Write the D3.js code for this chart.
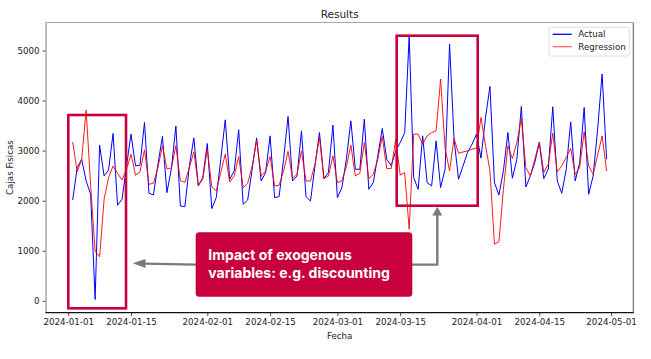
<!DOCTYPE html>
<html>
<head>
<meta charset="utf-8">
<script src="https://cdn.jsdelivr.net/npm/d3@7"></script>
<style>
  html, body { margin: 0; padding: 0; background: #fff; }
  svg { display: block; }
</style>
</head>
<body>
<svg id="chart" width="651" height="359"></svg>
<script>
// ---------------- DATA ----------------
const startDate = "2024-01-02";
const endDate = "2024-05-01"; // exclusive
const actualJan = [2014, 2662, 2828, 2394, 2128, 26, 3108, 2494, 2614, 3343, 1908, 2028, 2694, 3329, 2694,
  2708, 3562, 2148, 2114, 2728, 3283, 2161, 2640, 3490, 1894, 1881, 2694, 3255, 2294, 2462];
const actualFeb = [3142, 1841, 2061, 2828, 3615, 2428, 2594, 3415, 1928, 2014, 2628, 3255, 2394, 2561, 3295,
  2061, 2081, 2828, 3683, 2394, 2494, 3395, 2081, 1994, 2694, 3362, 2441, 2561, 3509];
const actualMar = [2061, 2261, 2828, 3595, 2628, 2628, 3629, 2228, 2361, 2895, 3442, 2828, 2700, 2995, 3162,
  3362, 5296, 2462, 2228, 3295, 2361, 2294, 3195, 2261, 2628, 5130, 3229, 2428, 2694, 2962, 3128];
const actualApr = [3329, 2850, 3650, 4283, 2361, 2114, 2600, 3362, 2448, 2828, 3883, 2274, 2494, 2762, 3162,
  2441, 2628, 3875, 2394, 2148, 2628, 3575, 2394, 2762, 3862, 2128, 2494, 3429, 4530, 2828];

const regJan = [3175, 2574, 2828, 3809, 2300, 993, 881, 2028, 2462, 2694, 2548, 2414, 2628, 2928, 2508,
  2574, 3015, 2328, 2348, 2662, 3095, 2635, 2652, 3100, 2400, 2365, 2662, 2975, 2308, 2428];
const regFeb = [3028, 2281, 2194, 2561, 2928, 2374, 2494, 2882, 2261, 2348, 2694, 3209, 2494, 2594, 2882,
  2294, 2308, 2594, 2985, 2441, 2528, 2995, 2394, 2394, 2728, 3262, 2441, 2494, 2895];
const regMar = [2361, 2394, 2682, 3108, 2494, 2548, 3162, 2441, 2528, 2828, 3283, 2642, 2642, 3229, 2510,
  2561, 1428, 3329, 3329, 3128, 3295, 3362, 3395, 4430, 3050, 2594, 3242, 2948, 2974, 2994, 3028];
const regApr = [3050, 3662, 3100, 2600, 1130, 1180, 2228, 3095, 2842, 3162, 3642, 2662, 2494, 2828, 3175,
  2561, 2728, 3349, 2574, 2694, 2862, 3042, 2528, 2662, 3375, 2694, 2528, 2908, 3295, 2594];

const xTickLabels = ["2024-01-01", "2024-01-15", "2024-02-01", "2024-02-15", "2024-03-01",
  "2024-03-15", "2024-04-01", "2024-04-15", "2024-05-01"];
const yTickValues = [0, 1000, 2000, 3000, 4000, 5000];
const seriesNames = ["Actual", "Regression"];
const annotationText = ["Impact of exogenous", "variables: e.g. discounting"];

// ---------------- BUILD ----------------
const parse = d3.utcParse("%Y-%m-%d");
const dates = d3.utcDay.range(parse(startDate), parse(endDate));
const actual = [].concat(actualJan, actualFeb, actualMar, actualApr);
const regression = [].concat(regJan, regFeb, regMar, regApr);
const rowsA = dates.map((d, i) => ({ date: d, v: actual[i] }));
const rowsR = dates.map((d, i) => ({ date: d, v: regression[i] }));

const svg = d3.select("#chart");
const L = 46, R = 633.3, T = 22.5, B = 312.7;

const xExt = d3.extent(dates);
const xPad = (xExt[1] - xExt[0]) * 0.05;
const x = d3.scaleUtc()
  .domain([new Date(+xExt[0] - xPad), new Date(+xExt[1] + xPad)])
  .range([L, R]);

const allV = actual.concat(regression);
const yExt = d3.extent(allV);
const yPad = (yExt[1] - yExt[0]) * 0.05;
const y = d3.scaleLinear()
  .domain([yExt[0] - yPad, yExt[1] + yPad])
  .range([B, T]);

const FONT = "DejaVu Sans, sans-serif";

// axes
const xAxis = d3.axisBottom(x)
  .tickValues(xTickLabels.map(parse))
  .tickFormat(d3.utcFormat("%Y-%m-%d"))
  .tickSize(3.5).tickPadding(3);
const gx = svg.append("g").attr("transform", `translate(0,${B})`).call(xAxis);
gx.select(".domain").remove();
gx.selectAll("text").attr("font-family", FONT).attr("font-size", 8.7).attr("fill", "#222");
gx.selectAll("line").attr("stroke", "#222").attr("stroke-width", 0.8);

const yAxis = d3.axisLeft(y).tickValues(yTickValues).tickFormat(d3.format("d"))
  .tickSize(3.5).tickPadding(3);
const gy = svg.append("g").attr("transform", `translate(${L},0)`).call(yAxis);
gy.select(".domain").remove();
gy.selectAll("text").attr("font-family", FONT).attr("font-size", 8.7).attr("fill", "#222");
gy.selectAll("line").attr("stroke", "#222").attr("stroke-width", 0.8);

// lines
const line = d3.line().x(d => x(d.date)).y(d => y(d.v));
svg.append("path").datum(rowsA).attr("d", line)
  .attr("fill", "none").attr("stroke", "#0000ff").attr("stroke-width", 1);
svg.append("path").datum(rowsR).attr("d", line)
  .attr("fill", "none").attr("stroke", "#ff0000").attr("stroke-opacity", 0.9).attr("stroke-width", 1);

// spines
svg.append("line").attr("x1", L).attr("x2", L).attr("y1", T).attr("y2", B).attr("stroke", "#999").attr("stroke-width", 1.3);
svg.append("line").attr("x1", L).attr("x2", R).attr("y1", T).attr("y2", T).attr("stroke", "#aaa").attr("stroke-width", 1.1);
svg.append("line").attr("x1", R).attr("x2", R).attr("y1", T).attr("y2", B).attr("stroke", "#555").attr("stroke-width", 1);
svg.append("line").attr("x1", L - 0.6).attr("x2", R + 0.5).attr("y1", B).attr("y2", B).attr("stroke", "#111").attr("stroke-width", 1.2);

// title and labels
svg.append("text").attr("x", (L + R) / 2).attr("y", 18).attr("text-anchor", "middle")
  .attr("font-family", FONT).attr("font-size", 10.5).attr("fill", "#222").text("Results");
svg.append("text").attr("x", (L + R) / 2).attr("y", 339).attr("text-anchor", "middle")
  .attr("font-family", FONT).attr("font-size", 8.7).attr("fill", "#222").text("Fecha");
svg.append("text").attr("transform", `translate(13,${(T + B) / 2}) rotate(-90)`).attr("text-anchor", "middle")
  .attr("font-family", FONT).attr("font-size", 8.7).attr("fill", "#222").text("Cajas Fisicas");

// legend
const lg = svg.append("g");
lg.append("rect").attr("x", 549).attr("y", 27.3).attr("width", 80.3).attr("height", 28.7).attr("rx", 2)
  .attr("fill", "#fff").attr("fill-opacity", 0.85).attr("stroke", "#d5d5d5").attr("stroke-width", 0.8);
const legendColors = [["#0000ff", 1], ["#ff0000", 0.6]];
seriesNames.forEach((n, i) => {
  const yy = 34.3 + i * 12.4;
  lg.append("line").attr("x1", 552.7).attr("x2", 571.7).attr("y1", yy).attr("y2", yy)
    .attr("stroke", legendColors[i][0]).attr("stroke-opacity", legendColors[i][1]).attr("stroke-width", 1.3);
  lg.append("text").attr("x", 578.3).attr("y", yy + 3.1).attr("font-family", FONT).attr("font-size", 8.7)
    .attr("fill", "#222").text(n);
});

// annotations
const CRIMSON = "#c8003e";
const ann = svg.append("g");
ann.append("rect").attr("x", 68.3).attr("y", 115).attr("width", 57.7).attr("height", 193.3)
  .attr("fill", "none").attr("stroke", CRIMSON).attr("stroke-width", 2.6);
ann.append("rect").attr("x", 396.7).attr("y", 35.7).attr("width", 81).attr("height", 170)
  .attr("fill", "none").attr("stroke", CRIMSON).attr("stroke-width", 2.6);

const GRAY = "#7a7a7a";
// left arrow
ann.append("line").attr("x1", 196).attr("y1", 264.6).attr("x2", 144).attr("y2", 263.6)
  .attr("stroke", GRAY).attr("stroke-width", 2.4);
ann.append("path").attr("d", "M132.7,263.3 L145.5,259 L145.5,268 Z").attr("fill", GRAY);
// right elbow arrow
ann.append("path").attr("d", "M411,264.6 L437.3,264.6 L437.3,214").attr("fill", "none")
  .attr("stroke", GRAY).attr("stroke-width", 2.4);
ann.append("path").attr("d", "M437.3,206.7 L432.3,215.5 L442.3,215.5 Z").attr("fill", GRAY);

// label box
ann.append("rect").attr("x", 195.7).attr("y", 232.3).attr("width", 216.6).attr("height", 64.4).attr("rx", 3.5)
  .attr("fill", CRIMSON);
annotationText.forEach((t, i) => {
  ann.append("text").attr("x", 208.3).attr("y", 260 + i * 17.7)
    .attr("font-family", "Inter, Roboto, sans-serif").attr("font-weight", 700).attr("font-size", 14)
    .attr("fill", "#fff").text(t);
});
</script>
</body>
</html>
